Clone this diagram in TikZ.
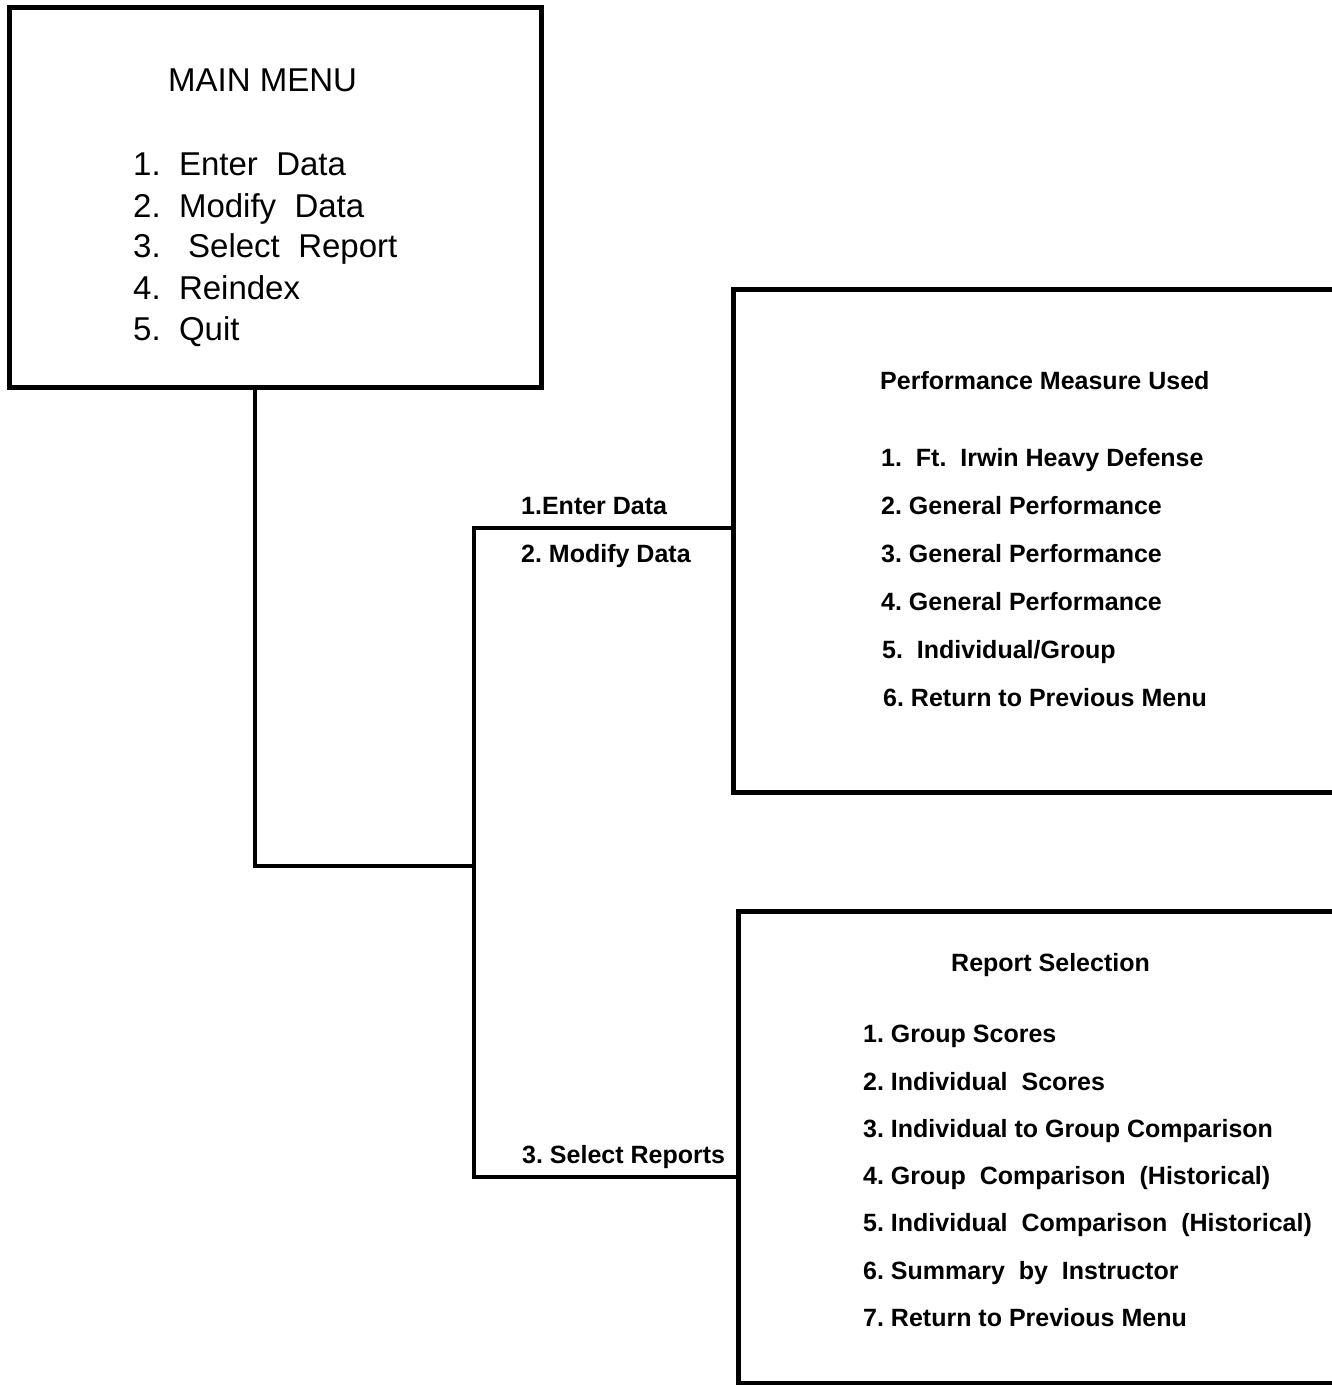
\documentclass[tikz,border=0pt]{standalone}
\usepackage{fontspec}
\setmainfont{Liberation Sans}
\usetikzlibrary{positioning,calc}
\frenchspacing

\begin{document}
\begin{tikzpicture}[x=1pt,y=-1pt,
  menubox/.style={draw,line width=5pt,inner sep=0pt},
  link/.style={line width=4pt},
  mainitem/.style={anchor=base west,inner sep=0pt,font=\fontsize{33}{40}\selectfont},
  subitem/.style={anchor=base west,inner sep=0pt,font=\fontsize{25}{30}\selectfont\bfseries}]
  \useasboundingbox (0,0) rectangle (1332,1385); % 画像全体の大きさ
  \clip (0,0) rectangle (1332,1385); % 右端・下端ではみ出す枠を切る
  % 枠
  \node[menubox,minimum width=532,minimum height=380] (mainbox) at (275,197) {}; % メインメニューの枠
  \node[menubox,minimum width=700,minimum height=503] (perfbox) at (1083,540.5) {}; % 評価尺度の枠（右は画面外）
  \node[menubox,minimum width=700,minimum height=472] (repbox) at (1088,1147) {}; % 報告選択の枠（右は画面外）
  % 接続線
  \coordinate (stem) at (255,866); % メインメニューからの線の曲がり角
  \coordinate (trunktop) at (474,528); % 幹の上端
  \coordinate (trunkbot) at (474,1177); % 幹の下端
  \draw[link] (stem |- mainbox.south) -- (stem) -- (stem -| trunktop); % メインメニューから幹へ
  \draw[link] (trunktop -| perfbox.west) -- (trunktop) -- (trunkbot) -- (trunkbot -| repbox.west); % 幹と二つの枠
  % メインメニューの文字
  \node[mainitem] (maintitle) at (168,91) {MAIN MENU};
  \node[mainitem] (main1) at (133,175) {1.~ Enter~ Data};
  \node[mainitem] (main2) at (133,217) {2.~ Modify~ Data};
  \node[mainitem] (main3) at (133,257) {3.~~ Select~ Report};
  \node[mainitem] (main4) at (133,299) {4.~ Reindex};
  \node[mainitem] (main5) at (133,340) {5.~ Quit};
  % 線上のラベル
  \node[subitem] (lblenter) at (521,514) {1.Enter Data};
  \node[subitem] (lblmodify) at (521,562) {2.~Modify Data};
  \node[subitem] (lblselect) at (522,1163) {3.~Select Reports};
  % 評価尺度の文字
  \node[subitem] (perftitle) at (880,389) {Performance Measure Used};
  \node[subitem] (perf1) at (881,466) {1.~ Ft.~ Irwin Heavy Defense};
  \node[subitem] (perf2) at (881,514) {2.~General Performance};
  \node[subitem] (perf3) at (881,562) {3.~General Performance};
  \node[subitem] (perf4) at (881,610) {4.~General Performance};
  \node[subitem] (perf5) at (882,658) {5.~ Individual/Group};
  \node[subitem] (perf6) at (883,706) {6.~Return to Previous Menu};
  % 報告選択の文字
  \node[subitem] (reptitle) at (951,971) {Report Selection};
  \node[subitem] (rep1) at (863,1042) {1.~Group Scores};
  \node[subitem] (rep2) at (863,1090) {2.~Individual~ Scores};
  \node[subitem] (rep3) at (863,1137) {3.~Individual to Group Comparison};
  \node[subitem] (rep4) at (863,1184) {4.~Group~ Comparison~ (Historical)};
  \node[subitem] (rep5) at (863,1231) {5.~Individual~ Comparison~ (Historical)};
  \node[subitem] (rep6) at (863,1279) {6.~Summary~ by~ Instructor};
  \node[subitem] (rep7) at (863,1326) {7.~Return to Previous Menu};
\end{tikzpicture}
\end{document}
